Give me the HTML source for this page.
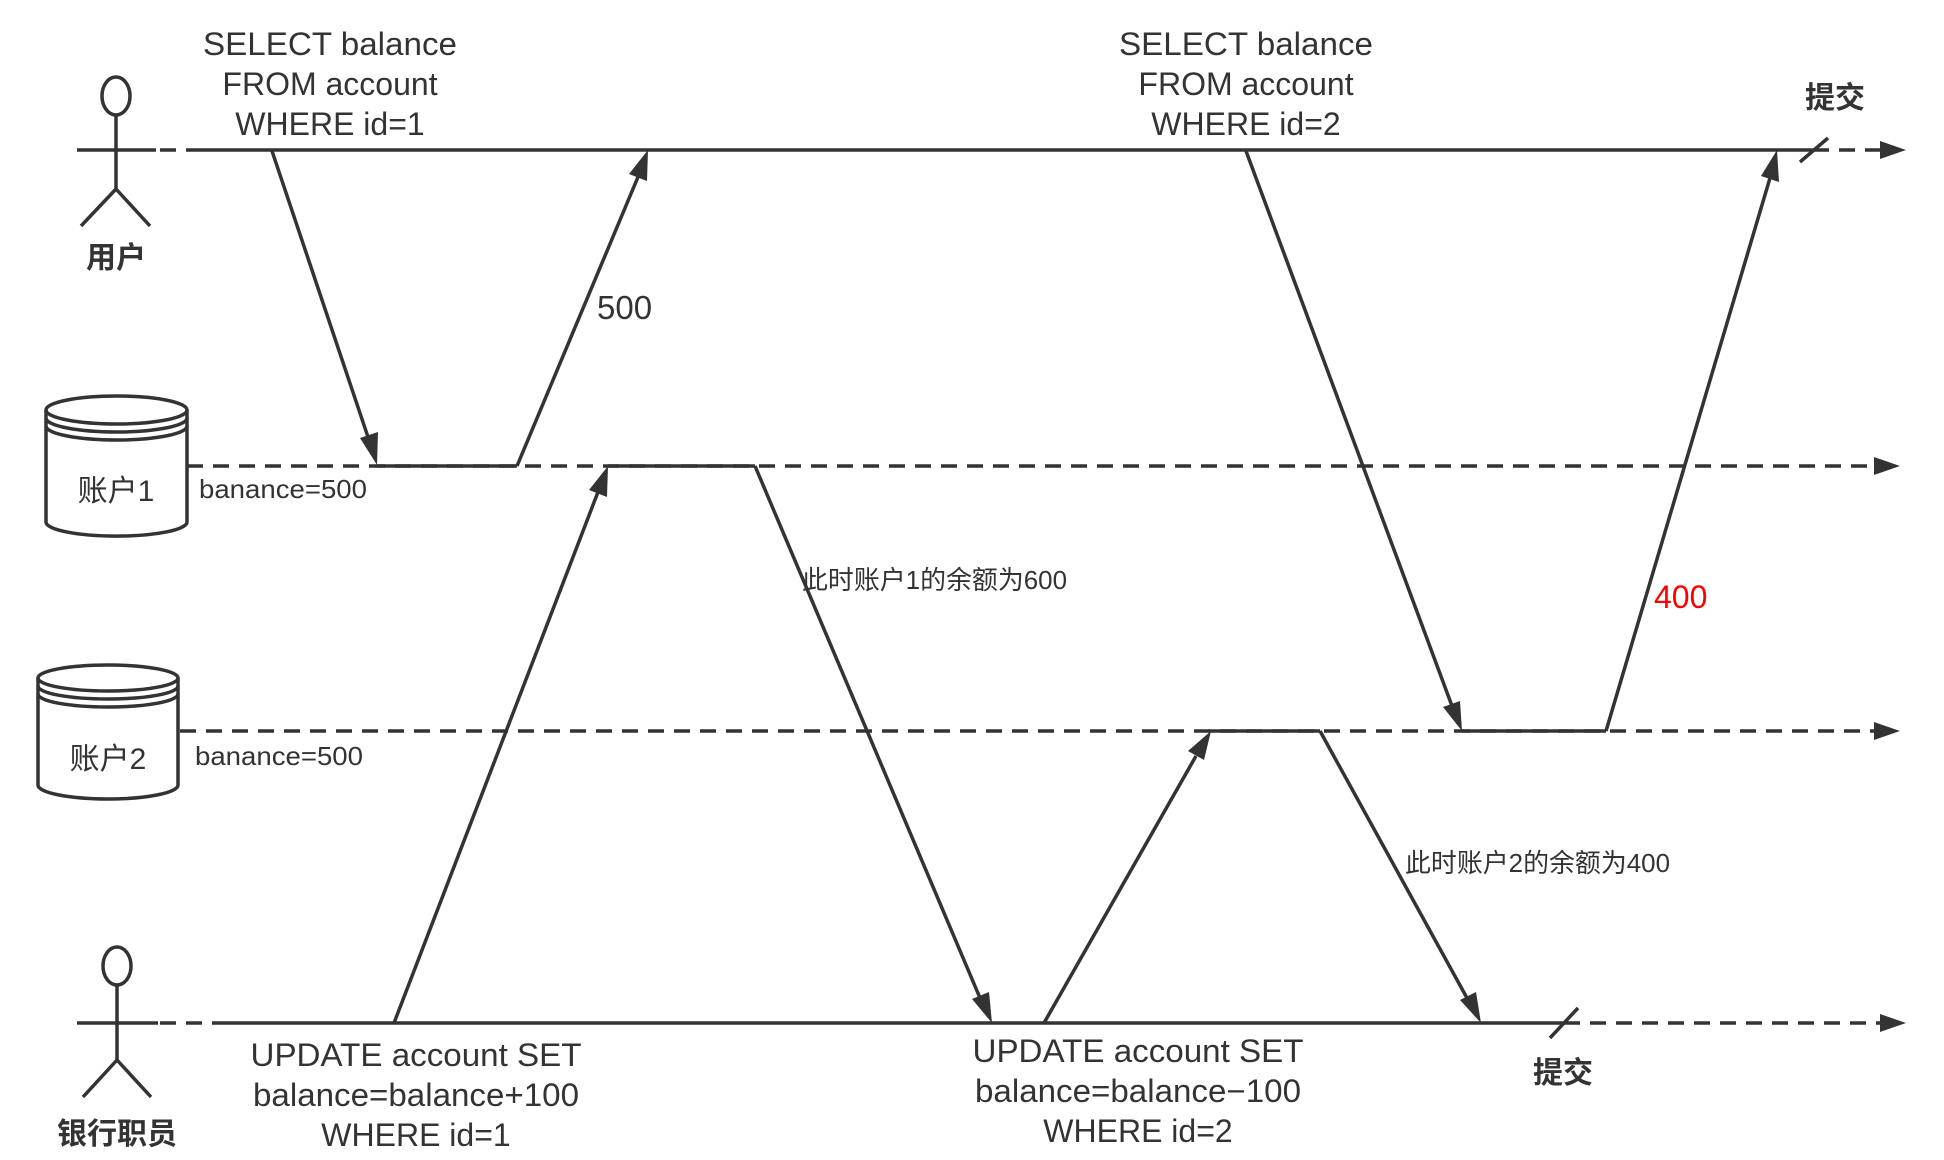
<!DOCTYPE html>
<html><head><meta charset="utf-8"><style>
html,body{margin:0;padding:0;background:#fff;}
svg{display:block;}
text{font-family:"Liberation Sans","Noto Sans CJK SC",sans-serif;fill:#333;}
</style></head><body>
<svg width="1944" height="1160" viewBox="0 0 1944 1160" xmlns="http://www.w3.org/2000/svg">
<g stroke="#333" stroke-width="3.5" fill="none">
<line x1="77" y1="150" x2="156" y2="150"/>
<line x1="160" y1="150" x2="186" y2="150" stroke-dasharray="16,10"/>
<line x1="186" y1="150" x2="1813" y2="150"/>
<line x1="1813" y1="150" x2="1880" y2="150" stroke-dasharray="16,10"/>
<line x1="1800" y1="162" x2="1828" y2="138"/>
<line x1="187" y1="466" x2="1880" y2="466" stroke-dasharray="16,10"/>
<line x1="377" y1="466" x2="517" y2="466"/>
<line x1="608" y1="466" x2="755" y2="466"/>
<line x1="180" y1="731" x2="1880" y2="731" stroke-dasharray="16,10"/>
<line x1="1208" y1="731" x2="1320" y2="731"/>
<line x1="1462" y1="731" x2="1606" y2="731"/>
<line x1="77" y1="1023" x2="158" y2="1023"/>
<line x1="160" y1="1023" x2="216" y2="1023" stroke-dasharray="16,10"/>
<line x1="216" y1="1023" x2="1564" y2="1023"/>
<line x1="1564" y1="1023" x2="1880" y2="1023" stroke-dasharray="16,10"/>
<line x1="1550" y1="1038" x2="1578" y2="1008"/>
<ellipse cx="116" cy="96" rx="14" ry="19"/>
<line x1="116" y1="115" x2="116" y2="189"/>
<line x1="116" y1="189" x2="81" y2="226"/>
<line x1="116" y1="189" x2="150" y2="226"/>
<ellipse cx="117" cy="966" rx="14" ry="19"/>
<line x1="117" y1="985" x2="117" y2="1060"/>
<line x1="117" y1="1060" x2="83" y2="1097"/>
<line x1="117" y1="1060" x2="151" y2="1097"/>
<path d="M46 410 L46 522 A70 14 0 0 0 187 522 L187 410"/>
<ellipse cx="116.5" cy="410" rx="70.5" ry="14"/>
<path d="M46 418 A70.5 14 0 0 0 187 418"/>
<path d="M46 426 A70.5 14 0 0 0 187 426"/>
<path d="M38 678 L38 785 A70 14 0 0 0 178 785 L178 678"/>
<ellipse cx="108" cy="678" rx="70" ry="13"/>
<path d="M38 686 A70 13 0 0 0 178 686"/>
<path d="M38 694 A70 13 0 0 0 178 694"/>
</g>
<g fill="#333">
<polygon points="1906,150 1880,141 1880,159"/>
<polygon points="1900,466 1874,457 1874,475"/>
<polygon points="1900,731 1874,722 1874,740"/>
<polygon points="1906,1023 1880,1014 1880,1032"/>
</g>
<g stroke="#333" stroke-width="3.5">
<line x1="272" y1="151" x2="369" y2="440"/>
<line x1="517" y1="466" x2="638" y2="177"/>
<line x1="394" y1="1023" x2="598" y2="492"/>
<line x1="755" y1="466" x2="980" y2="998"/>
<line x1="1044" y1="1023" x2="1196" y2="756"/>
<line x1="1320" y1="731" x2="1467" y2="998"/>
<line x1="1246" y1="151" x2="1452" y2="706"/>
<line x1="1606" y1="731" x2="1770" y2="178"/>
</g>
<g fill="#333">
<polygon points="377,465 360,438 378,432"/>
<polygon points="648,150 647,181 629,174"/>
<polygon points="608,466 607,497 589,490"/>
<polygon points="992,1023 972,999 989,992"/>
<polygon points="1211,731 1204,760 1188,751"/>
<polygon points="1481,1023 1460,1000 1476,992"/>
<polygon points="1462,731 1443,707 1460,701"/>
<polygon points="1777,150 1779,182 1761,176"/>
</g>
<g font-size="32" text-anchor="middle">
<text x="330" y="55" textLength="254" lengthAdjust="spacingAndGlyphs">SELECT balance</text>
<text x="330" y="95">FROM account</text>
<text x="330" y="135">WHERE id=1</text>
<text x="1246" y="55" textLength="254" lengthAdjust="spacingAndGlyphs">SELECT balance</text>
<text x="1246" y="95">FROM account</text>
<text x="1246" y="135">WHERE id=2</text>
<text x="416" y="1066" textLength="331" lengthAdjust="spacingAndGlyphs">UPDATE account SET</text>
<text x="416" y="1106" textLength="326" lengthAdjust="spacingAndGlyphs">balance=balance+100</text>
<text x="416" y="1146">WHERE id=1</text>
<text x="1138" y="1062" textLength="331" lengthAdjust="spacingAndGlyphs">UPDATE account SET</text>
<text x="1138" y="1102" textLength="326" lengthAdjust="spacingAndGlyphs">balance=balance−100</text>
<text x="1138" y="1142">WHERE id=2</text>
</g>
<text x="597" y="319" font-size="33">500</text>
<text x="1654" y="608" font-size="32" style="fill:#ff0000">400</text>
<text x="199" y="498" font-size="26" textLength="168" lengthAdjust="spacingAndGlyphs">banance=500</text>
<text x="195" y="765" font-size="26" textLength="168" lengthAdjust="spacingAndGlyphs">banance=500</text>
<text x="802" y="589" font-size="26" textLength="265" lengthAdjust="spacingAndGlyphs">此时账户1的余额为600</text>
<text x="1405" y="872" font-size="26" textLength="265" lengthAdjust="spacingAndGlyphs">此时账户2的余额为400</text>
<g font-size="30" text-anchor="middle" font-weight="bold">
<text x="1835" y="108">提交</text>
<text x="1563" y="1083">提交</text>
<text x="116" y="268">用户</text>
<text x="117" y="1144">银行职员</text>
<text x="116" y="501" font-weight="normal">账户1</text>
<text x="108" y="769" font-weight="normal">账户2</text>
</g>
</svg>
</body></html>
